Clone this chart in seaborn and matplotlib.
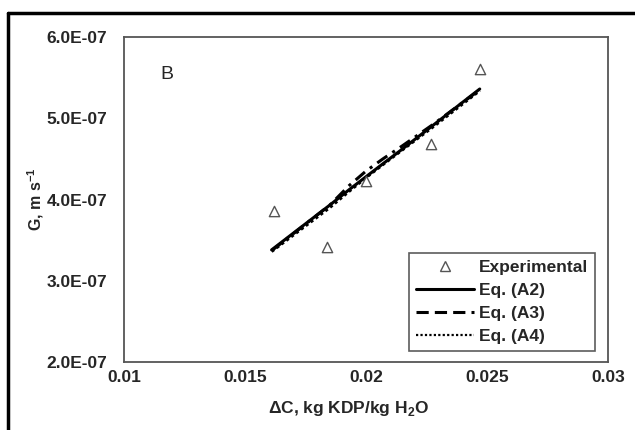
import matplotlib
matplotlib.use("Agg")
import matplotlib.pyplot as plt
from matplotlib.lines import Line2D
from matplotlib.ticker import FixedLocator, FuncFormatter
import seaborn as sns
import pandas as pd

# Experimental growth rates
exp_dc = [0.0162, 0.0184, 0.0200, 0.0227, 0.0247]
exp_g = [3.86e-7, 3.42e-7, 4.23e-7, 4.68e-7, 5.60e-7]

# Model curves
model_dc = [0.0161, 0.0185, 0.0193, 0.0200, 0.0207, 0.0215, 0.0228, 0.0247]
g_a2 = [3.38e-7, 3.93e-7, 4.12e-7, 4.28e-7, 4.44e-7, 4.62e-7, 4.92e-7, 5.36e-7]
g_a3 = [3.37e-7, 3.93e-7, 4.17e-7, 4.35e-7, 4.50e-7, 4.66e-7, 4.93e-7, 5.35e-7]
g_a4 = [3.36e-7, 3.90e-7, 4.10e-7, 4.27e-7, 4.43e-7, 4.61e-7, 4.90e-7, 5.34e-7]

x_ticks = [0.01, 0.015, 0.02, 0.025, 0.03]
x_tick_labels = ["0.01", "0.015", "0.02", "0.025", "0.03"]
y_ticks = [2e-7, 3e-7, 4e-7, 5e-7, 6e-7]

sns.set_style("white")
plt.rcParams["font.family"] = ["Liberation Sans", "DejaVu Sans"]
plt.rcParams["mathtext.fontset"] = "custom"
plt.rcParams["mathtext.rm"] = "Liberation Sans"
plt.rcParams["mathtext.bf"] = "Liberation Sans:bold"

fig = plt.figure(figsize=(6.35, 4.30), dpi=100)
ax = fig.add_axes([124 / 635, 1 - 362 / 430, 484 / 635, 325 / 430])

exp_df = pd.DataFrame({"dc": exp_dc, "g": exp_g})
model_df = pd.DataFrame({"dc": model_dc, "a2": g_a2, "a3": g_a3, "a4": g_a4})

sns.lineplot(data=model_df, x="dc", y="a4", ax=ax, color="black", lw=2.2,
             linestyle=(0, (1, 1)), legend=False)
sns.lineplot(data=model_df, x="dc", y="a3", ax=ax, color="black", lw=2.2,
             linestyle=(0, (4, 2, 1, 2)), legend=False)
sns.lineplot(data=model_df, x="dc", y="a2", ax=ax, color="black", lw=2.2,
             legend=False)
sns.scatterplot(data=exp_df, x="dc", y="g", ax=ax, marker="^", s=55,
                facecolor="white", edgecolor="#555555", linewidth=1.0,
                legend=False, zorder=5)

ax.set_xlim(0.01, 0.03)
ax.set_ylim(2e-7, 6e-7)
ax.xaxis.set_major_locator(FixedLocator(x_ticks))
ax.set_xticklabels(x_tick_labels)
ax.yaxis.set_major_locator(FixedLocator(y_ticks))
ax.yaxis.set_major_formatter(FuncFormatter(lambda v, p: f"{v:.1E}"))
ax.tick_params(axis="both", which="major", direction="in", length=5,
               width=1, color="#555555", labelsize=12.5, pad=6)
ax.tick_params(axis="y", pad=12)
for lab in ax.get_xticklabels() + ax.get_yticklabels():
    lab.set_fontweight("bold")

for s in ax.spines.values():
    s.set_color("#555555")
    s.set_linewidth(1.3)

ax.set_xlabel(r"$\mathbf{\Delta}$C, kg KDP/kg H$_{\mathbf{2}}$O",
              fontsize=12.5, fontweight="bold", labelpad=6)
ax.xaxis.set_label_coords((349 - 124) / 484, -0.115)
ax.set_ylabel(r"G, m s$^{\mathbf{-1}}$", fontsize=11.5, fontweight="bold")
ax.yaxis.set_label_coords(-0.162, 0.5)

ax.text(0.088, 0.885, "B", transform=ax.transAxes, fontsize=14,
        ha="center", va="center")

handles = [
    Line2D([], [], marker="^", linestyle="none", markerfacecolor="white",
           markeredgecolor="#555555", markersize=7, markeredgewidth=1.0),
    Line2D([], [], color="black", lw=2.2),
    Line2D([], [], color="black", lw=2.2, linestyle=(0, (4, 2))),
    Line2D([], [], color="black", lw=1.6, linestyle=(0, (1, 1))),
]
labels = ["Experimental", "Eq. (A2)", "Eq. (A3)", "Eq. (A4)"]
leg = ax.legend(handles, labels, loc="lower right",
                bbox_to_anchor=(0.973, 0.034),
                prop={"weight": "bold", "size": 12.5}, frameon=True,
                fancybox=False, handlelength=3.3, handletextpad=0.3,
                labelspacing=0.45, borderpad=0.4, borderaxespad=0)
leg.get_frame().set_edgecolor("#333333")
leg.get_frame().set_linewidth(1.2)

# Outer frame along the top and left edges of the figure
fig.add_artist(Line2D([8 / 635, 8 / 635], [0, 1 - 13 / 430],
                      transform=fig.transFigure, color="black", lw=2.5))
fig.add_artist(Line2D([8 / 635, 1], [1 - 13 / 430, 1 - 13 / 430],
                      transform=fig.transFigure, color="black", lw=2.5))

fig.savefig("out.png", dpi=100)
